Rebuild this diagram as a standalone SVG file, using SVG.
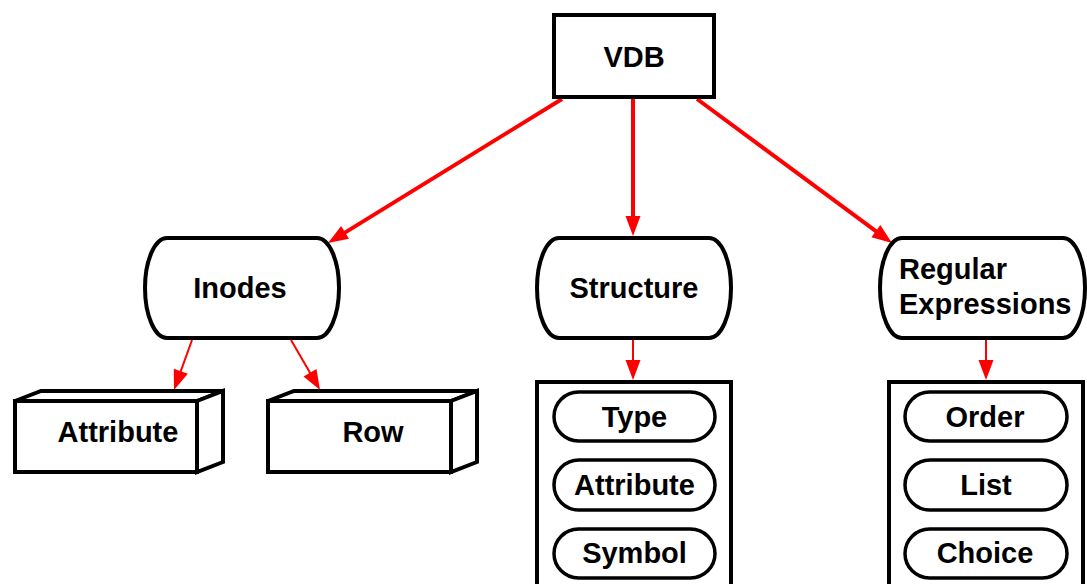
<svg xmlns="http://www.w3.org/2000/svg" width="1087" height="584" viewBox="0 0 1087 584">
<defs>
<style>
.box{fill:#fff;stroke:#000;stroke-width:4;stroke-linejoin:miter}
.pill{fill:#fff;stroke:#000;stroke-width:3.5}
.t{font-family:"Liberation Sans",Arial,sans-serif;font-weight:bold;font-size:29px;fill:#000;text-anchor:middle}
.tl{text-anchor:start}
.thick{stroke:#ff0000;stroke-width:4;fill:none;marker-end:url(#ah)}
.thin{stroke:#ff0000;stroke-width:2;fill:none;marker-end:url(#ah)}
</style>
<marker id="ah" markerUnits="userSpaceOnUse" markerWidth="20" markerHeight="15" refX="5" refY="7.5" orient="auto" overflow="visible">
<path d="M0,0 L20,7.5 L0,15 z" fill="#ff0000"/>
</marker>
</defs>
<rect width="1087" height="584" fill="#fff"/>
<g id="connectors">
<line class="thick" x1="562" y1="99" x2="340.8" y2="235.1"/>
<line class="thick" x1="633" y1="99" x2="633" y2="221"/>
<line class="thick" x1="697" y1="99" x2="879.9" y2="234.1"/>
<line class="thin" x1="192" y1="340" x2="179.1" y2="375.9"/>
<line class="thin" x1="291" y1="340" x2="312.5" y2="377"/>
<line class="thin" x1="633" y1="340" x2="633" y2="365"/>
<line class="thin" x1="986" y1="340" x2="986" y2="365"/>
</g>
<g id="vdb">
<rect class="box" x="554" y="15" width="160" height="82"/>
<text class="t" x="634" y="67">VDB</text>
</g>
<g id="inodes">
<rect class="box" x="145" y="238" width="194" height="100" rx="22" ry="50"/>
<text class="t" x="240" y="298">Inodes</text>
</g>
<g id="structure">
<rect class="box" x="537" y="238" width="194" height="100" rx="22" ry="50"/>
<text class="t" x="634" y="298">Structure</text>
</g>
<g id="regex">
<rect class="box" x="880" y="238" width="205" height="100" rx="22" ry="50"/>
<text class="t tl" x="899" y="279">Regular</text>
<text class="t tl" x="899" y="314">Expressions</text>
</g>
<g id="attribute-box">
<polygon class="box" points="15,401 41,391 223,391 197,401"/>
<polygon class="box" points="197,401 223,391 223,462 197,472"/>
<rect class="box" x="15" y="401" width="182" height="71"/>
<text class="t" x="118" y="442">Attribute</text>
</g>
<g id="row-box">
<polygon class="box" points="268,401 294,391 477,391 451,401"/>
<polygon class="box" points="451,401 477,391 477,462 451,472"/>
<rect class="box" x="268" y="401" width="183" height="71"/>
<text class="t" x="373" y="442">Row</text>
</g>
<g id="structure-list">
<rect class="box" x="537" y="382" width="194" height="220"/>
<g id="type">
<rect class="pill" x="554" y="392" width="161" height="49" rx="24.5"/>
<text class="t" x="634.5" y="427">Type</text>
</g>
<g id="attribute-pill">
<rect class="pill" x="554" y="460" width="161" height="50" rx="25"/>
<text class="t" x="634.5" y="495">Attribute</text>
</g>
<g id="symbol">
<rect class="pill" x="554" y="529" width="161" height="49" rx="24.5"/>
<text class="t" x="634.5" y="563">Symbol</text>
</g>
</g>
<g id="regex-list">
<rect class="box" x="889" y="382" width="194" height="220"/>
<g id="order">
<rect class="pill" x="905" y="392" width="162" height="49" rx="24.5"/>
<text class="t" x="985" y="427">Order</text>
</g>
<g id="list">
<rect class="pill" x="905" y="460" width="162" height="50" rx="25"/>
<text class="t" x="986" y="495">List</text>
</g>
<g id="choice">
<rect class="pill" x="905" y="529" width="162" height="49" rx="24.5"/>
<text class="t" x="985" y="563">Choice</text>
</g>
</g>
</svg>
